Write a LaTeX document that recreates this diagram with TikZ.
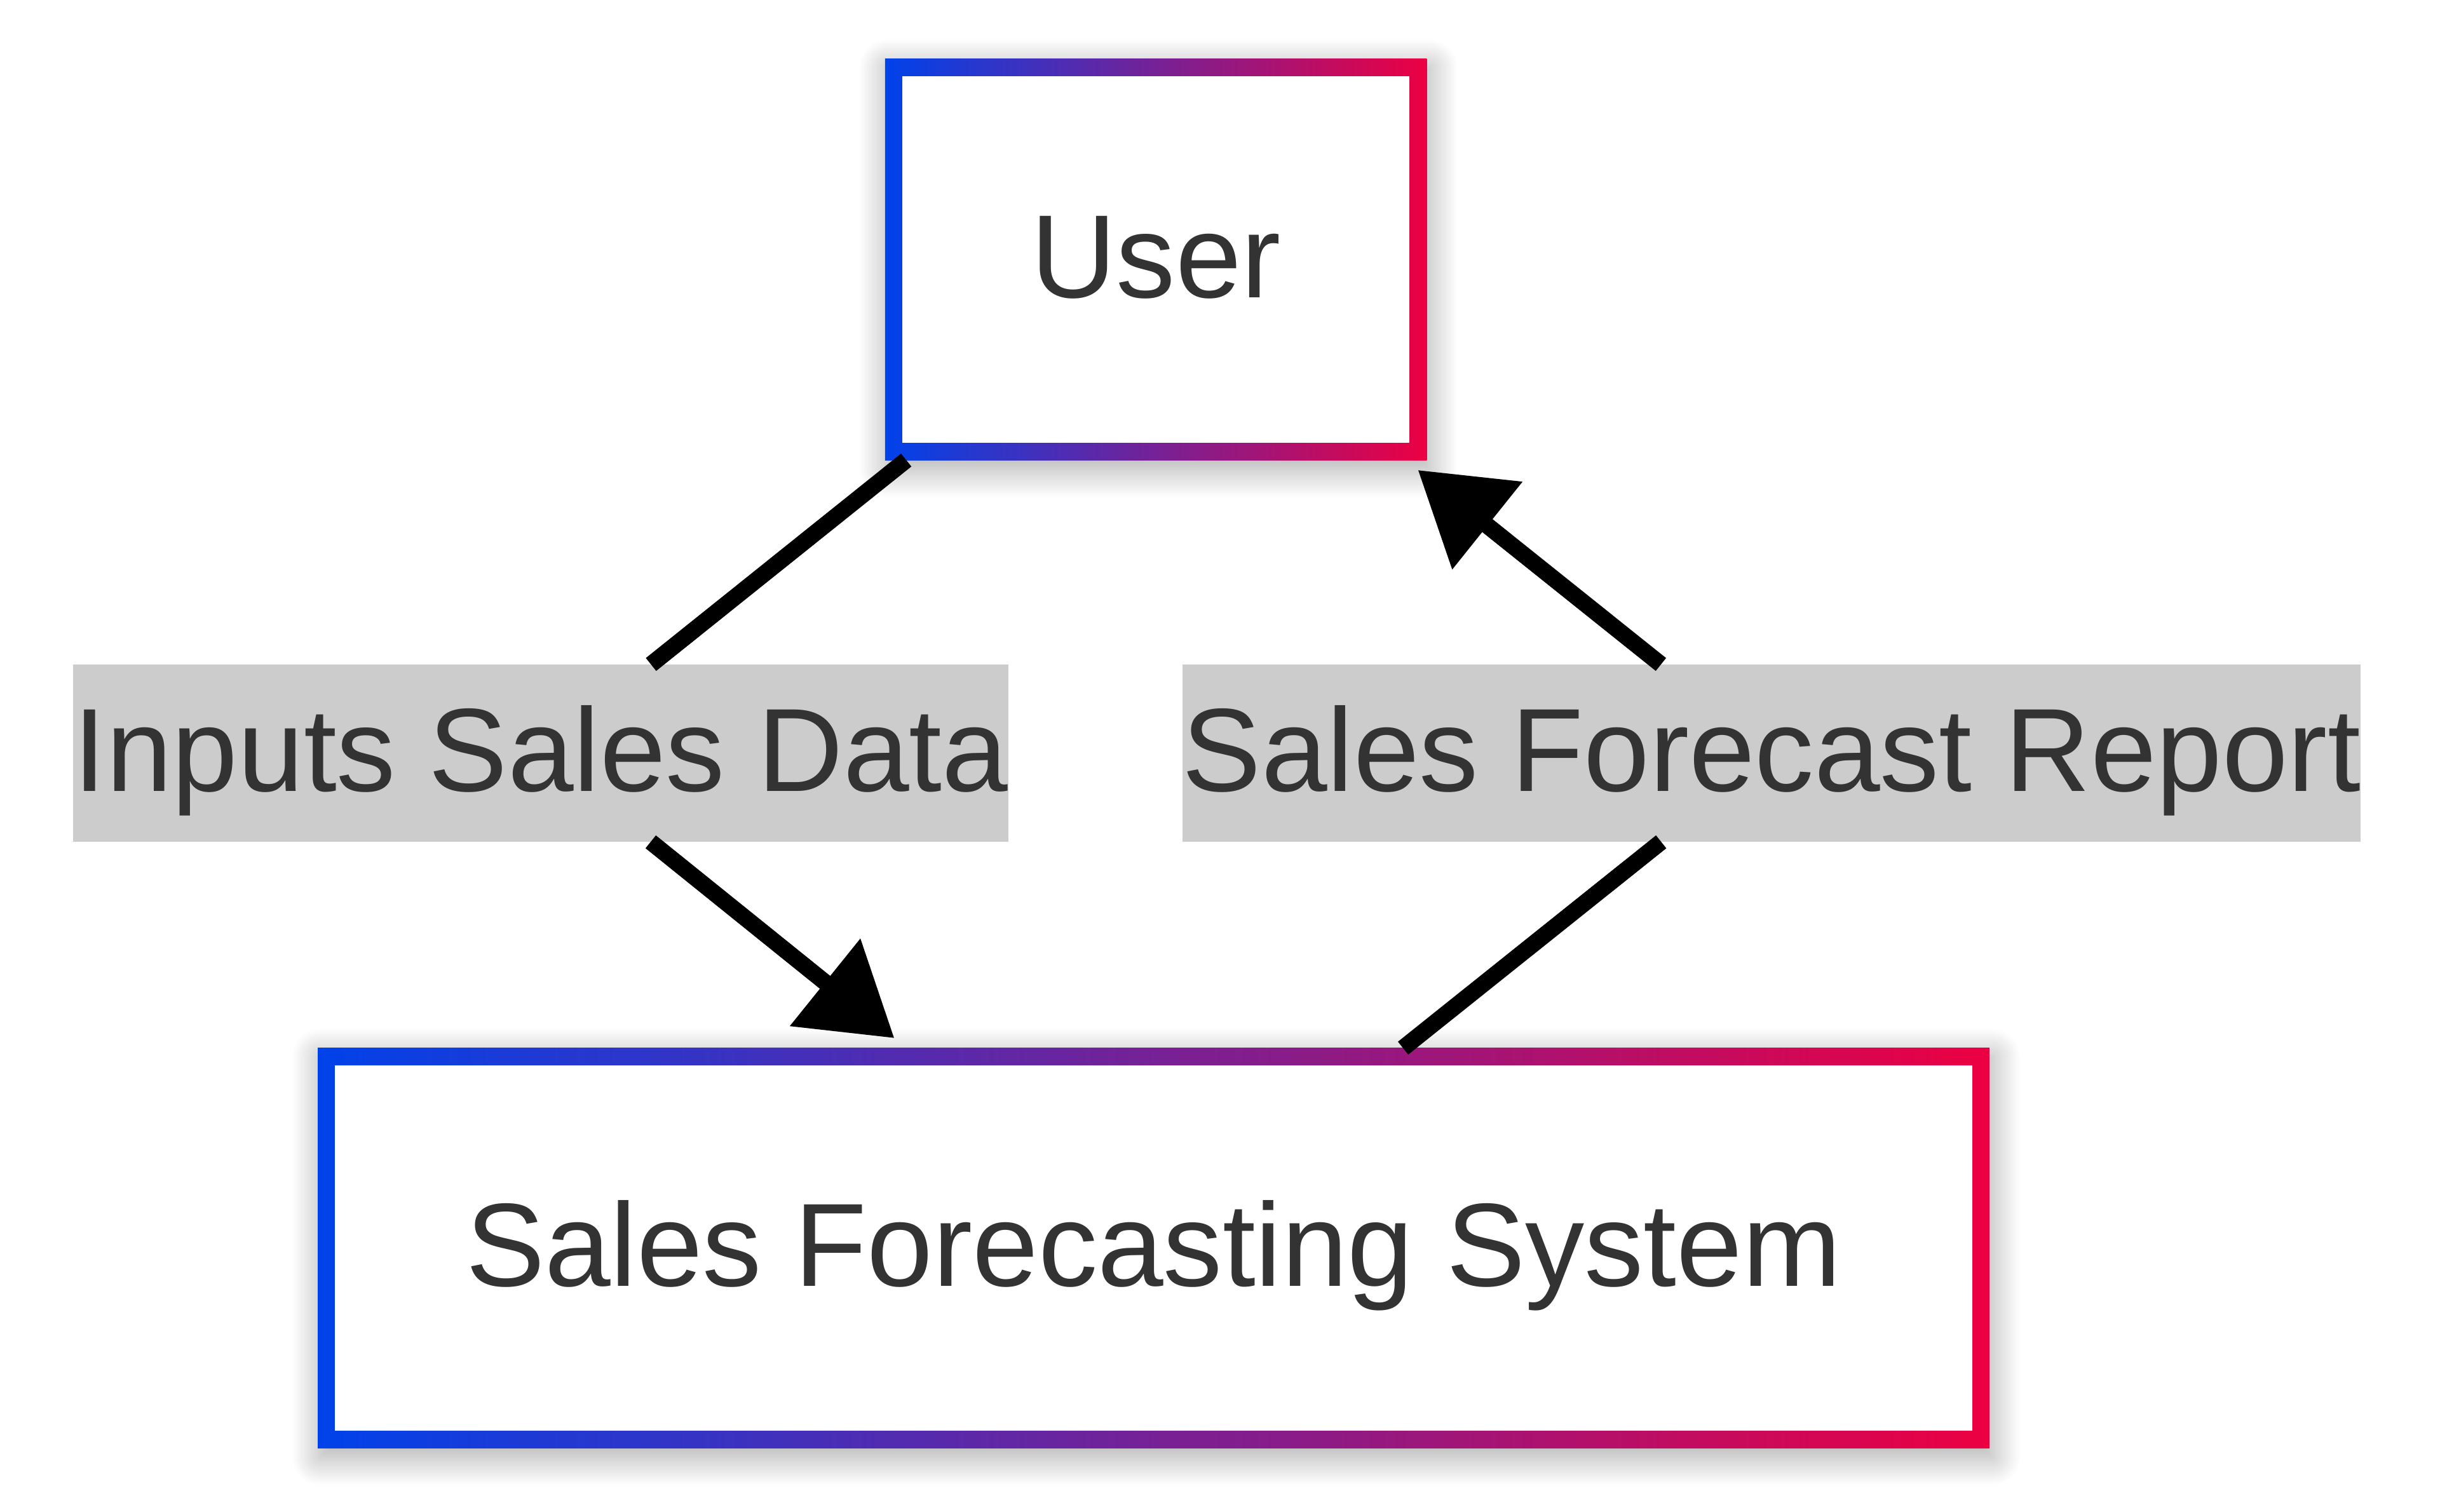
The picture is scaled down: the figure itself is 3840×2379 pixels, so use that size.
\documentclass[tikz,border=0pt]{standalone}
\usepackage{fontspec}
\setmainfont{Liberation Sans}
\usepackage{xcolor}
\usetikzlibrary{arrows.meta,shadows.blur}
\definecolor{boxblue}{RGB}{0,66,234}
\definecolor{boxred}{RGB}{236,0,66}
\definecolor{labelgray}{RGB}{204,204,204}
\definecolor{textgray}{RGB}{51,51,51}
\tikzset{
    box/.style={
        rectangle,
        inner sep=0mm,
        outer sep=0mm,
        left color=boxblue,
        right color=boxred,
        blur shadow={shadow xshift=0.04cm,shadow yshift=-0.14cm,
            shadow blur radius=0.45cm,shadow blur steps=40,shadow opacity=35},
        path picture={
            \fill[white] ([shift={(0.27cm,-0.27cm)}]path picture bounding box.north west)
                rectangle ([shift={(-0.27cm,0.27cm)}]path picture bounding box.south east);
        },
        text=textgray,
        font=\fontsize{53}{64}\selectfont,
        text height=39.2pt,
        text depth=5.3pt
    },
    lab/.style={
        rectangle,
        fill=labelgray,
        inner sep=0mm,
        outer sep=0mm,
        minimum height=2.79cm,
        text=textgray,
        font=\fontsize{53}{64}\selectfont,
        text height=39.2pt,
        text depth=5.3pt
    },
    link/.style={
        draw=black,
        line width=0.26cm,
        -{Triangle[length=1.4cm,width=1.7cm]},
        shorten >=0.25cm
    }
}

\begin{document}
\begin{tikzpicture}[x=0.01cm,y=-0.01cm]
        \useasboundingbox (0,0) rectangle (3840,2379);
        % draw boxes
        \node[box,minimum width=8.52cm,minimum height=6.31cm] (user) at (1819,408.5) {User};
        \node[box,minimum width=26.29cm,minimum height=6.29cm] (sys) at (1815.5,1964.5)
            {Sales Forecasting System};
        % draw labels
        \node[lab] (inlab) at (851,1185.5) {Inputs Sales Data};
        \node[lab] (outlab) at (2788,1185.5) {Sales Forecast Report};
        % draw links
        \draw[link] (user) -- (inlab) -- (sys);
        \draw[link] (sys) -- (outlab) -- (user);
\end{tikzpicture}
\end{document}
